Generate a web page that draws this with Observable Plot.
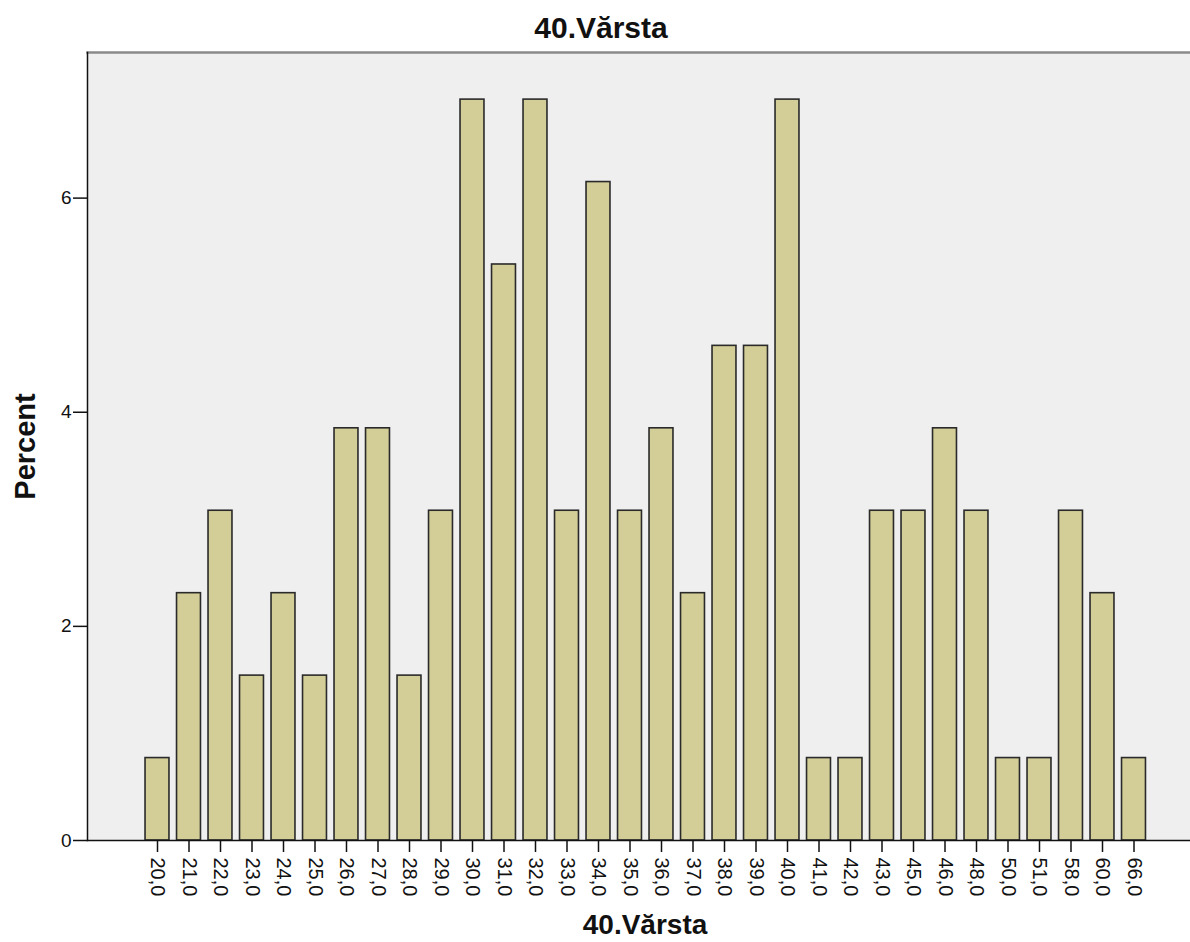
<!DOCTYPE html>
<html>
<head>
<meta charset="utf-8">
<script src="https://cdn.jsdelivr.net/npm/d3@7"></script>
<script src="https://cdn.jsdelivr.net/npm/@observablehq/plot@0.6"></script>
<style>
  html, body { margin: 0; padding: 0; background: #fff; }
  #chart svg { display: block; }
</style>
</head>
<body>
<div id="chart"></div>
<script>
const ageLabels = ["20,0","21,0","22,0","23,0","24,0","25,0","26,0","27,0","28,0","29,0","30,0","31,0","32,0","33,0","34,0","35,0","36,0","37,0","38,0","39,0","40,0","41,0","42,0","43,0","45,0","46,0","48,0","50,0","51,0","58,0","60,0","66,0"];
const percents = [0.77,2.31,3.08,1.54,2.31,1.54,3.85,3.85,1.54,3.08,6.92,5.38,6.92,3.08,6.15,3.08,3.85,2.31,4.62,4.62,6.92,0.77,0.77,3.08,3.08,3.85,3.08,0.77,0.77,3.08,2.31,0.77];
const yTicks = [0, 2, 4, 6];
const titleText = "40.Vărsta";
const xTitle = "40.Vărsta";
const yTitle = "Percent";

const data = ageLabels.map((a, i) => ({age: a, pct: percents[i]}));
const font = "Arial, 'Liberation Sans', sans-serif";

const chart = Plot.plot({
  width: 1190,
  height: 942,
  marginTop: 52,
  marginBottom: 102,
  marginLeft: 87,
  marginRight: 0,
  style: {fontFamily: font, background: "#fff"},
  x: {domain: ageLabels, range: [141.25, 1149.25], paddingInner: 0.24, paddingOuter: 0.12, round: false},
  y: {domain: [0, 7.36]},
  marks: [
    Plot.frame({fill: "#efefef", stroke: null}),
    Plot.frame({anchor: "top", stroke: "#8a8a8a", strokeWidth: 2.5}),
    Plot.barY(data, {x: "age", y: "pct", fill: "#d3ce97", stroke: "#2a2a2a", strokeWidth: 1.6}),
    Plot.frame({anchor: "left", stroke: "#111", strokeWidth: 1.5}),
    Plot.frame({anchor: "bottom", stroke: "#111", strokeWidth: 1.5}),
    Plot.axisY({ticks: yTicks, tickSize: 14, tickPadding: 2, tickFormat: d => d, label: null, fontSize: 19, stroke: "#111", strokeWidth: 1.5, color: "#111"}),
    Plot.axisX({tickSize: 12, tickPadding: 5, tickRotate: 90, label: null, fontSize: 20, stroke: "#111", strokeWidth: 1.5, color: "#111"}),
    Plot.text([titleText], {frameAnchor: "top", dy: -24, dx: -38, lineAnchor: "middle", text: d => d, fontSize: 30, fontWeight: "bold", fill: "#111"}),
    Plot.text([xTitle], {frameAnchor: "bottom", dy: 85, dx: 6, lineAnchor: "middle", text: d => d, fontSize: 28, fontWeight: "bold", fill: "#111"}),
    Plot.text([yTitle], {frameAnchor: "left", dx: -62, dy: 0, rotate: -90, textAnchor: "middle", lineAnchor: "middle", text: d => d, fontSize: 29, fontWeight: "bold", fill: "#111"})
  ]
});
document.getElementById("chart").appendChild(chart);
</script>
</body>
</html>
